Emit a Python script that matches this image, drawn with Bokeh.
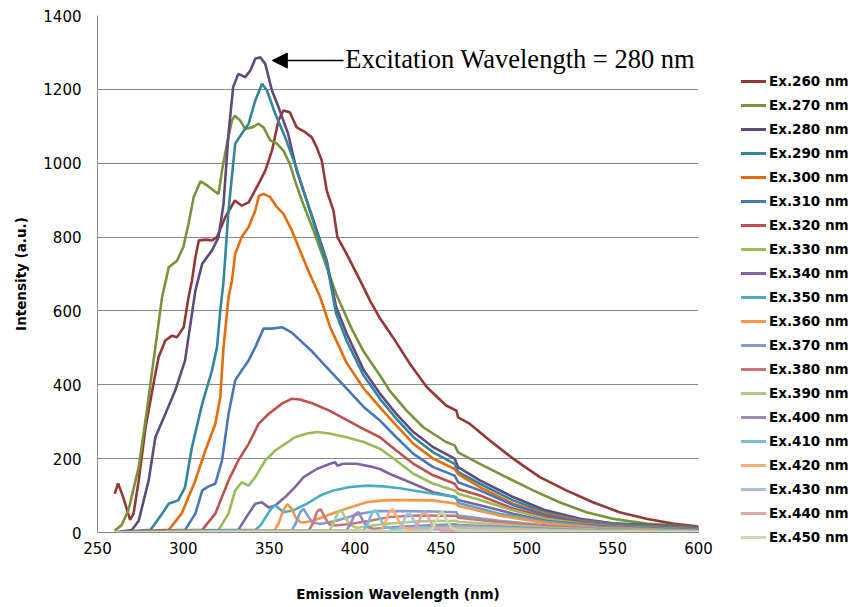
from bokeh.plotting import figure
from bokeh.layouts import row
from bokeh.models import (Range1d, Arrow, NormalHead, Label, FixedTicker, Div)
from bokeh.embed import file_html
from bokeh.resources import INLINE

# ---------------- data ----------------
excitation = [260, 270, 280, 290, 300, 310, 320, 330, 340, 350,
              360, 370, 380, 390, 400, 410, 420, 430, 440, 450]

wl_260 = [260, 262, 265, 269, 271, 274, 278, 283, 285.6, 289.5, 293.4, 296.3, 300.2, 303, 305, 307,
          309, 313, 316.7, 319.6, 324.4, 330, 334, 338, 343.8, 347.7, 351.6, 355.4, 358.3, 362,
          366, 371, 374.8, 377.7, 380.6, 383.5, 387.4, 389.7, 395, 403, 408.7, 414.5, 422, 431.9,
          441.7, 453, 459, 460, 466.9, 478.5, 492, 507.6, 523, 538.5, 554, 569.6, 585, 600]
int_260 = [105, 133, 95, 34, 51, 141, 285, 412, 475, 520, 533, 529, 556, 637, 682, 745,
           791, 793, 791, 800, 854, 899, 885, 894, 944, 980, 1034, 1116, 1143, 1138,
           1097, 1084, 1070, 1043, 1007, 926, 872, 800, 755, 682, 628, 580, 529, 457,
           394, 344, 330, 312, 294, 249, 200, 150, 114, 82, 55, 37, 24, 16]

wl_270 = [260, 264, 268, 274, 279, 283.7, 287.6, 291.5, 296.3, 300, 303, 306, 310, 313.8, 317.6,
          320.5, 322.5, 325.4, 328.3, 330, 333, 336, 340, 343.8, 346.7, 350.6, 354.5, 358.3,
          362, 365, 369, 375.8, 383.5, 389, 395, 398, 405, 414.5, 420, 430, 439.7, 453, 458,
          460, 472.7, 488, 503.7, 519, 534.7, 550, 569.6, 600]
int_270 = [5, 20, 60, 177, 339, 502, 637, 718, 736, 773, 836, 908, 951, 940, 926,
           917, 980, 1053, 1116, 1129, 1116, 1093, 1097, 1107, 1097, 1062, 1053, 1034,
           998, 953, 899, 818, 718, 646, 583, 552, 490, 425, 385, 330, 285, 245, 236,
           217, 186, 150, 114, 82, 55, 37, 24, 14]

wl_280 = [260, 270, 274, 279.8, 283.7, 289.5, 295.3, 301, 305, 307, 311, 316.7, 320.5, 323.4,
          326.3, 329, 332, 336, 339, 341.9, 344.8, 347.7, 351.6, 355.4, 361, 366, 375.8,
          383.5, 389, 395, 405, 414.5, 424, 434, 445.5, 458, 460, 472.7, 492, 511, 531, 550, 600]
int_280 = [0, 7, 32, 141, 258, 321, 385, 466, 592, 655, 728, 764, 800, 890,
           1080, 1206, 1242, 1233, 1251, 1283, 1287, 1269, 1197, 1152, 1080, 980, 845,
           736, 610, 540, 440, 376, 321, 272, 231, 200, 177, 141, 96, 60, 37, 25, 14]

wl_290 = [260, 280.8, 287.6, 291.5, 297, 301, 305, 311, 316.7, 319.6, 321.5, 323.4, 326.3,
          330.2, 334, 338, 341.9, 345.8, 348.7, 353.5, 359.3, 365, 375.8, 383.5, 389, 395,
          405, 414.5, 424, 434, 445.5, 458, 460, 472.7, 492, 511, 531, 550, 600]
int_290 = [0, 7, 51, 78, 87, 123, 231, 349, 439, 502, 600, 680, 872,
           1053, 1080, 1107, 1170, 1215, 1197, 1134, 1070, 998, 840, 730, 592, 520,
           425, 362, 308, 258, 217, 186, 164, 132, 87, 55, 34, 24, 12]

wl_300 = [260, 291.5, 299, 307, 312.8, 318.6, 321.5, 323.4, 326.3, 328.3, 330.2, 334, 338,
          341.9, 344, 346.7, 350.6, 354.5, 358.3, 363.2, 371.9, 379.7, 385.5, 395, 405,
          414.5, 424, 434, 445.5, 458, 460, 472.7, 492, 511, 531, 550, 600]
int_300 = [0, 7, 51, 141, 222, 294, 366, 502, 637, 682, 755, 800, 827,
           872, 912, 917, 908, 881, 863, 818, 718, 637, 556, 460, 390,
           339, 290, 240, 200, 172, 158, 123, 78, 51, 32, 21, 11]

wl_310 = [260, 301, 307, 311, 314.7, 318.6, 322.5, 326.3, 330.2, 334, 338, 341.9, 346.7,
          351.5, 357.4, 363, 375, 385, 395, 405, 414.5, 424, 434, 445.5, 458, 460, 472.7,
          492, 511, 531, 550, 600]
int_310 = [0, 7, 51, 114, 125, 132, 195, 321, 412, 439, 466, 502, 552,
           552, 556, 542, 490, 440, 390, 340, 303, 258, 213, 177, 154, 136, 114,
           74, 47, 30, 20, 10]

wl_320 = [260, 311, 318.6, 326.3, 332, 338, 343.8, 349.6, 357.4, 363, 368, 375, 385, 395,
          405, 414.5, 424, 434, 445.5, 458, 460, 472.7, 492, 511, 531, 550, 600]
int_320 = [0, 7, 51, 141, 195, 240, 294, 321, 349, 362, 360, 350, 330, 305,
           280, 258, 222, 186, 155, 132, 118, 100, 65, 41, 27, 18, 9]

wl_330 = [260, 320.5, 326.3, 330.2, 334, 338, 341.9, 347.7, 353.5, 359.3, 365, 372, 378,
          385, 395, 405, 414.5, 424, 434, 445.5, 458, 460, 472.7, 492, 511, 531, 550, 600]
int_330 = [0, 7, 51, 114, 136, 127, 150, 195, 222, 240, 258, 268, 272,
           268, 258, 245, 227, 195, 159, 132, 114, 105, 88, 60, 37, 24, 16, 8]

wl_340 = [260, 332, 338, 341.9, 345.7, 349.6, 353.5, 359.3, 365, 370, 377.7, 385.5, 388.4,
          389.7, 393, 401, 410.6, 414.5, 420, 434, 445.5, 458, 460, 472.7, 492, 511, 531,
          550, 600]
int_340 = [0, 7, 51, 78, 82, 68, 73, 96, 123, 150, 172, 186, 190,
           181, 186, 186, 177, 172, 159, 132, 109, 96, 88, 74, 51, 32, 22,
           15, 7]

wl_350 = [260, 341.9, 345, 348, 351, 353.5, 356, 358.5, 364, 372, 379.7, 387.4, 397, 406.8,
          416.5, 426, 445.5, 459, 460, 472.7, 484, 513, 542, 600]
int_350 = [0, 7, 20, 42, 64, 73, 64, 55, 60, 78, 100, 114, 123, 127,
           125, 120, 105, 96, 80, 65, 51, 28, 14, 5]

wl_360 = [260, 353, 355.5, 358, 360.5, 363, 365.5, 368, 370, 375.7, 383.5, 389, 397, 406.8,
          416.5, 426, 445.5, 459, 460, 484, 513, 542, 600]
int_360 = [0, 5, 25, 58, 77, 65, 40, 28, 27, 32, 46, 55, 68, 82,
           87, 88, 87, 78, 72, 46, 24, 12, 3]

wl_370 = [260, 363, 365.5, 368, 370, 372.5, 375, 379.7, 389, 402.9, 412.6, 426, 445.5, 459,
          460, 484, 513, 542, 600]
int_370 = [0, 5, 25, 55, 64, 45, 28, 23, 32, 51, 58, 58, 57, 55,
           46, 32, 18, 10, 2]

wl_380 = [260, 373, 375.5, 378, 380, 382.5, 385, 388.4, 397, 408.7, 420, 435.8, 459, 460,
          484, 513, 542, 600]
int_380 = [0, 5, 25, 58, 63, 40, 22, 19, 23, 32, 42, 46, 45, 40,
           28, 16, 8, 2]

wl_390 = [260, 385, 387.5, 390, 392, 394.5, 397, 401, 416.5, 435.8, 459, 460, 484, 513, 542, 600]
int_390 = [0, 5, 25, 55, 60, 38, 20, 13, 23, 30, 32, 29, 22, 13, 7, 2]

wl_400 = [260, 395, 397.5, 400, 402, 404.5, 407, 410.6, 430, 459, 460, 484, 513, 542, 600]
int_400 = [0, 5, 25, 50, 55, 33, 15, 10, 17, 22, 20, 16, 10, 5, 1]

wl_410 = [260, 405, 407.5, 410, 412, 414.5, 417, 421, 440, 459, 484, 513, 542, 600]
int_410 = [0, 5, 25, 55, 60, 38, 18, 10, 14, 17, 13, 8, 4, 1]

wl_420 = [260, 415, 417.5, 420, 422, 424.5, 427, 430, 445, 459, 484, 513, 542, 600]
int_420 = [0, 5, 25, 57, 63, 40, 18, 10, 11, 12, 10, 6, 3, 1]

wl_430 = [260, 425, 427.5, 430, 432, 434.5, 437, 440, 459, 484, 542, 600]
int_430 = [0, 4, 22, 48, 51, 30, 12, 7, 8, 7, 2, 1]

wl_440 = [260, 434, 436.5, 439, 441, 443.5, 446, 450, 484, 600]
int_440 = [0, 4, 22, 50, 55, 33, 13, 5, 4, 1]

wl_450 = [260, 444, 446.5, 449, 451, 453.5, 456, 460, 600]
int_450 = [0, 4, 22, 50, 55, 33, 13, 5, 1]

x_ticks = [250, 300, 350, 400, 450, 500, 550, 600]
y_ticks = [0, 200, 400, 600, 800, 1000, 1200, 1400]

annotation_text = "Excitation Wavelength = 280 nm"

series_wl = [wl_260, wl_270, wl_280, wl_290, wl_300, wl_310, wl_320, wl_330, wl_340, wl_350,
             wl_360, wl_370, wl_380, wl_390, wl_400, wl_410, wl_420, wl_430, wl_440, wl_450]
series_int = [int_260, int_270, int_280, int_290, int_300, int_310, int_320, int_330, int_340,
              int_350, int_360, int_370, int_380, int_390, int_400, int_410, int_420, int_430,
              int_440, int_450]

colors = ["#953735", "#77933C", "#604A7B", "#31859C", "#E46C0A", "#4577BA",
          "#C0504D", "#9BBB59", "#8064A2", "#4BACC6", "#F79646", "#7F9ED0",
          "#CD7775", "#AECA7E", "#9D88B9", "#74C0D6", "#F9AD76", "#A9BEDE",
          "#DDA8A7", "#C8DAAE"]

LINE_W = 2.6

# ---------------- main chart ----------------
p = figure(width=722, height=607, output_backend="svg", toolbar_location=None,
           x_range=Range1d(250, 600), y_range=Range1d(0, 1400),
           min_border_left=97, min_border_right=24, min_border_top=15, min_border_bottom=75)
p.outline_line_color = None
p.background_fill_color = "white"
p.border_fill_color = "white"

p.xgrid.visible = False
p.ygrid.grid_line_color = "#8A8A8A"
p.ygrid.grid_line_width = 1

for ax in (p.xaxis[0], p.yaxis[0]):
    ax.axis_line_color = "#8A8A8A"
    ax.major_tick_out = 0
    ax.major_tick_in = 0
    ax.minor_tick_out = 0
    ax.minor_tick_in = 0
    ax.major_label_text_font = "DejaVu Sans"
    ax.major_label_text_font_size = "15px"
    ax.major_label_text_color = "#000000"
    ax.axis_label_text_font = "DejaVu Sans"
    ax.axis_label_text_font_style = "bold"
    ax.axis_label_text_font_size = "13.5px"
    ax.axis_label_text_color = "#000000"

p.xaxis.ticker = FixedTicker(ticks=x_ticks)
p.yaxis.ticker = FixedTicker(ticks=y_ticks)
p.xaxis.axis_label = "Emission Wavelength (nm)"
p.yaxis.axis_label = "Intensity (a.u.)"
p.xaxis.major_label_standoff = 9
p.yaxis.major_label_standoff = 16
p.xaxis.axis_label_standoff = 29
p.yaxis.axis_label_standoff = 11

for wl, it, c in zip(series_wl, series_int, colors):
    p.line(wl, it, line_color=c, line_width=LINE_W)

# annotation pointing at the Ex.280 maximum
i_max = max(range(len(int_280)), key=lambda i: int_280[i])
peak_x, peak_y = wl_280[i_max], int_280[i_max]
p.add_layout(Arrow(end=NormalHead(size=15, fill_color="black", line_color="black"),
                   x_start=peak_x + 48.5, y_start=peak_y - 9,
                   x_end=peak_x + 7, y_end=peak_y - 9,
                   line_color="black", line_width=1.5))
p.add_layout(Label(x=peak_x + 49.5, y=peak_y - 6, text=annotation_text,
                   text_font="Liberation Serif", text_font_size="26.5px",
                   text_baseline="middle", text_align="left", text_color="#000000"))

# ---------------- legend (HTML block to the right of the chart) ----------------
LEG_FIRST = 81      # centre of the first entry, px from top
LEG_STEP = 24       # px between entries
LEG_LEFT = 19       # px from the left edge of the legend block

entries = []
for i, (ex, c) in enumerate(zip(excitation, colors)):
    top = LEG_FIRST + i * LEG_STEP - 10
    entries.append(
        f'<div style="position:absolute;left:{LEG_LEFT}px;top:{top}px;height:20px;'
        f'line-height:20px;white-space:nowrap;font-family:\'DejaVu Sans\';'
        f'font-weight:bold;font-size:13.5px;color:#000000;">'
        f'<span style="display:inline-block;width:25px;height:3px;background:{c};'
        f'vertical-align:middle;margin-right:3px;position:relative;top:-1px;"></span>'
        f'Ex.{ex} nm</div>')
legend_div = Div(text='<div style="position:relative;width:131px;height:607px;'
                      'background:white;">' + "".join(entries) + '</div>',
                 width=131, height=607, margin=0)

layout = row(p, legend_div, spacing=0)
open("out.html", "w").write(file_html(layout, INLINE))
